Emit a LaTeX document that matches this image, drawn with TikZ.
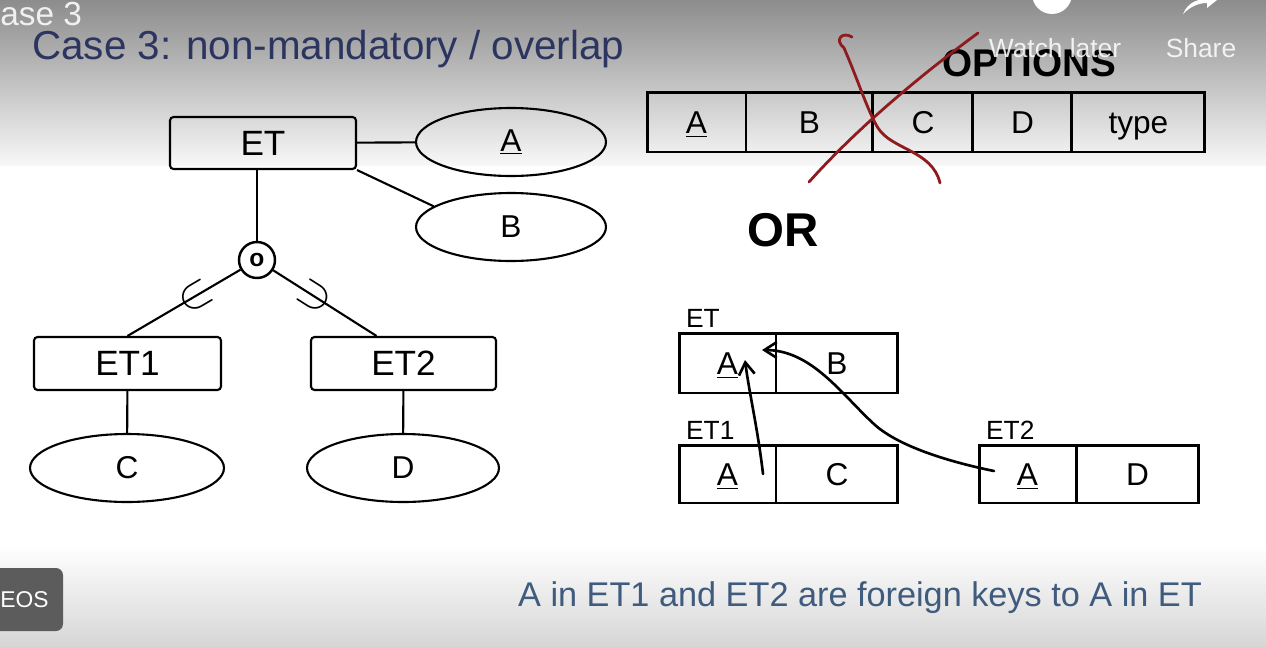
\documentclass[tikz,border=0pt]{standalone}
\usepackage{fontspec}
\setmainfont{Liberation Sans}
\usetikzlibrary{shapes.geometric,positioning,arrows.meta}

\definecolor{inkblue}{HTML}{2C3560}
\definecolor{capblue}{HTML}{3F5B7D}
\definecolor{crossred}{HTML}{8E1B1E}

\tikzset{
  entity/.style={draw, line width=1.2pt, rounded corners=2pt, minimum width=3.72cm, minimum height=1.04cm, font=\fontsize{20}{22}\selectfont},
  attr/.style={draw, ellipse, line width=1.2pt, minimum width=3.8cm, minimum height=1.36cm, inner sep=0pt, font=\fontsize{18}{20}\selectfont},
  cell/.style={draw, line width=1.7pt, outer sep=0pt, inner sep=0pt, minimum height=1.2cm, text height=13pt, text depth=0pt, font=\fontsize{18}{20}\selectfont},
  tname/.style={anchor=south west, inner sep=1pt, font=\fontsize{15}{16}\selectfont},
  subsym/.style={inner sep=0pt, font=\fontsize{24}{24}\selectfont},
}

\begin{document}
\begin{tikzpicture}[x=0.02cm, y=-0.02cm,
    er/.style={line width=1.2pt},
    fk/.style={line width=1.5pt, line cap=round, -{Straight Barb[length=7pt, width=9pt]}},
    cross/.style={crossred, line width=1.6pt, line cap=round}]
  \useasboundingbox (0,0) rectangle (1266,646);

  % video overlay
  \shade[top color=black!45, middle color=black!14, bottom color=black!3] (0,0) rectangle (1266,165);
  \shade[top color=white, bottom color=black!16] (0,545) rectangle (1266,646);
  \node[anchor=west, inner sep=0pt, text=black!6, font=\fontsize{19}{21}\selectfont] (vidtitle) at (0,14) {ase 3};

  % title
  \node[anchor=west, text=inkblue, font=\fontsize{23}{26}\selectfont] (title) at (26,49) {Case 3: non-mandatory / overlap};

  % ER diagram
  \node[entity] (et) at (263,143) {ET};
  \node[attr] (a) at (511,142) {\underline{A}};
  \node[attr] (b) at (511,227) {B};
  \node[draw, circle, line width=1.4pt, minimum size=0.72cm, inner sep=0pt, font=\bfseries\fontsize{14}{14}\selectfont] (isa) at (257,260) {o};
  \node[entity, minimum width=3.74cm, minimum height=1.06cm] (et1) at (127.5,363.5) {ET1};
  \node[entity, minimum width=3.7cm, minimum height=1.06cm] (et2) at (403.5,363.5) {ET2};
  \node[attr, minimum width=3.88cm] (c) at (127,468) {C};
  \node[attr, minimum width=3.84cm] (d) at (403,468) {D};

  \draw[er] (et) -- (a);
  \draw[er] (et.south east) -- (b.165);
  \draw[er] (et.south -| isa) -- (isa);
  \draw[er] (isa) -- node[pos=0.4, sloped, subsym] {$\subset$} (et1.north);
  \draw[er] (isa) -- node[pos=0.4, sloped, subsym] {$\supset$} ([xshift=-0.54cm]et2.north);
  \draw[er] (et1) -- (c);
  \draw[er] (et2) -- (d);

  % options table
  \node[font=\bfseries\fontsize{22}{24}\selectfont] (opts) at (1029,63) {OPTIONS};
  \node[cell, minimum width=1.98cm] (oA) at (696.5,122) {\underline{A}};
  \node[cell, minimum width=2.54cm, right=0pt of oA] (oB) {B};
  \node[cell, minimum width=2.0cm, right=0pt of oB] (oC) {C};
  \node[cell, minimum width=1.98cm, right=0pt of oC] (oD) {D};
  \node[cell, minimum width=2.66cm, right=0pt of oD] (oType) {type};

  % crossed out
  \draw[cross] (809,182) .. controls (860,125) and (925,72) .. (978,33);
  \draw[cross] (852,37) .. controls (842,31) and (834,40) .. (844,48)
    .. controls (858,80) and (868,112) .. (878,128)
    .. controls (892,150) and (932,150) .. (940,183);

  \node[font=\bfseries\fontsize{27}{30}\selectfont] (or) at (783,230) {OR};

  % relations
  \node[cell, minimum width=1.94cm] (etA) at (727.5,363) {\underline{A}};
  \node[cell, minimum width=2.44cm, right=0pt of etA] (etB) {B};
  \node[tname] (etlbl) at ([shift={(0.1cm,0.06cm)}]etA.north west) {ET};

  \node[cell, minimum width=1.94cm, minimum height=1.16cm] (et1A) at (727.5,474) {\underline{A}};
  \node[cell, minimum width=2.44cm, minimum height=1.16cm, right=0pt of et1A] (et1C) {C};
  \node[tname] (et1lbl) at ([shift={(0.1cm,0.06cm)}]et1A.north west) {ET1};

  \node[cell, minimum width=1.94cm, minimum height=1.16cm] (et2A) at (1027.5,474) {\underline{A}};
  \node[cell, minimum width=2.46cm, minimum height=1.16cm, right=0pt of et2A] (et2D) {D};
  \node[tname] (et2lbl) at ([shift={(0.1cm,0.06cm)}]et2A.north west) {ET2};

  % foreign keys
  \coordinate (fk1s) at (763,474);
  \coordinate (fk1t) at (745,360);
  \coordinate (fk2s) at (994,471);
  \coordinate (fk2t) at (762,350);
  \draw[fk] (fk1s) .. controls (758,430) and (749,392) .. (fk1t);
  \draw[fk] (fk2s) .. controls (950,462) and (900,447) .. (875,425)
    .. controls (842,395) and (812,350) .. (fk2t);

  \node[text=capblue, font=\fontsize{19.5}{22}\selectfont] (note) at (860,598) {A in ET1 and ET2 are foreign keys to A in ET};

  % player buttons
  \fill[white] (1052,-6) circle[radius=0.4cm];
  \fill[white] (1183,14) .. controls (1188,2) and (1198,-1) .. (1207,-1) -- (1207,-9) -- (1222,-4) -- (1207,8) -- (1207,3)
    .. controls (1198,3) and (1190,7) .. cycle;
  \node[text=white, opacity=0.85, font=\fontsize{15}{16}\selectfont] (watch) at (1055,48) {Watch later};
  \node[text=white, opacity=0.85, font=\fontsize{15}{16}\selectfont] (share) at (1201,48) {Share};
  \fill[black!64, rounded corners=4pt] (-10,568) rectangle (63,631);
  \node[anchor=west, inner sep=0pt, text=white, font=\fontsize{13}{14}\selectfont] (eos) at (0,600) {EOS};
\end{tikzpicture}
\end{document}
